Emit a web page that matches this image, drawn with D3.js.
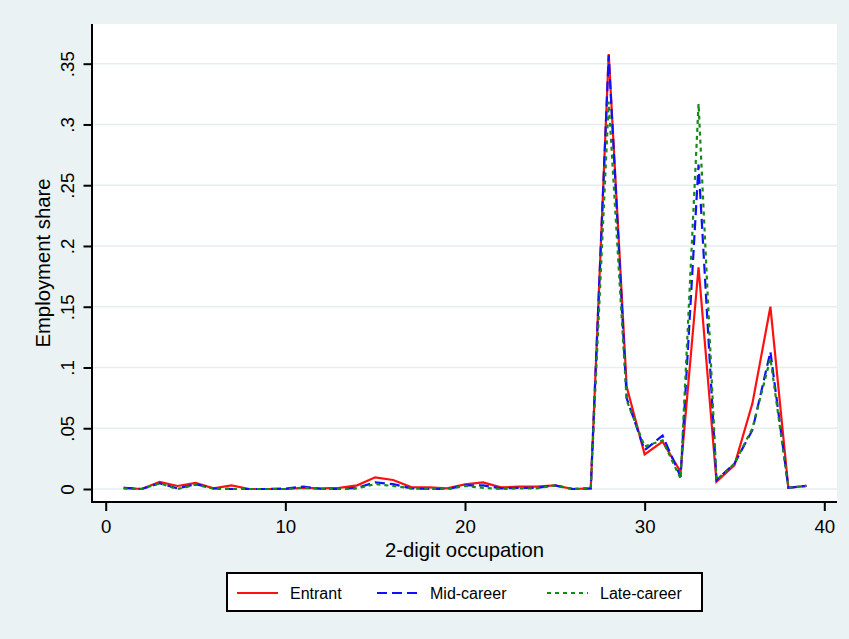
<!DOCTYPE html>
<html>
<head>
<meta charset="utf-8">
<script src="https://cdn.jsdelivr.net/npm/d3@7/dist/d3.min.js"></script>
<style>
  html, body { margin: 0; padding: 0; background: #eaf2f3; }
  svg { display: block; font-family: "Liberation Sans", Arial, Helvetica, sans-serif; }
</style>
</head>
<body>
<svg id="chart" width="849" height="639"></svg>
<script>
// 2-digit occupation codes
const occupations = d3.range(1, 40);

// Employment share by career stage
const entrant = [
  0.0010, 0.0000, 0.0058, 0.0025, 0.0050, 0.0005, 0.0030, 0.0000, 0.0000, 0.0000,
  0.0010, 0.0005, 0.0010, 0.0030, 0.0096, 0.0074, 0.0016, 0.0013, 0.0005, 0.0038,
  0.0055, 0.0013, 0.0020, 0.0020, 0.0030, 0.0000, 0.0005, 0.3580, 0.0842, 0.0285,
  0.0390, 0.0142, 0.1825, 0.0060, 0.0197, 0.0705, 0.1500, 0.0010, 0.0025
];
const midCareer = [
  0.0010, 0.0000, 0.0047, 0.0005, 0.0040, 0.0005, 0.0000, 0.0000, 0.0000, 0.0003,
  0.0020, 0.0000, 0.0000, 0.0010, 0.0055, 0.0040, 0.0005, 0.0000, 0.0000, 0.0030,
  0.0030, 0.0005, 0.0010, 0.0010, 0.0030, 0.0000, 0.0005, 0.3570, 0.0746, 0.0320,
  0.0440, 0.0100, 0.2670, 0.0074, 0.0210, 0.0486, 0.1130, 0.0010, 0.0025
];
const lateCareer = [
  0.0005, 0.0000, 0.0047, 0.0000, 0.0035, 0.0005, 0.0000, 0.0000, 0.0000, 0.0000,
  0.0010, 0.0000, 0.0000, 0.0005, 0.0040, 0.0025, 0.0005, 0.0000, 0.0000, 0.0025,
  0.0010, 0.0000, 0.0005, 0.0005, 0.0030, 0.0000, 0.0005, 0.3188, 0.0730, 0.0350,
  0.0400, 0.0085, 0.3170, 0.0074, 0.0210, 0.0500, 0.1075, 0.0010, 0.0025
];

const yTicks = [0, 0.05, 0.1, 0.15, 0.2, 0.25, 0.3, 0.35];
const xTicks = [0, 10, 20, 30, 40];

const seriesNames = ["Entrant", "Mid-career", "Late-career"];
const seriesColors = ["#ff1010", "#1010ff", "#168a16"];
const seriesDashes = [null, "10,5", "4,4"];
const seriesValues = [entrant, midCareer, lateCareer];

const svg = d3.select("#chart");

// plot region
const region = { left: 92, right: 837, top: 24, bottom: 502 };

svg.append("rect")
  .attr("x", region.left).attr("y", region.top)
  .attr("width", region.right - region.left)
  .attr("height", region.bottom - region.top)
  .attr("fill", "#ffffff");

const x = d3.scaleLinear().domain([0, 40]).range([105.7, 824.3]);
const y = d3.scaleLinear().domain([0, 0.35]).range([489, 63.7]);

// horizontal grid
svg.append("g")
  .selectAll("line")
  .data(yTicks)
  .join("line")
  .attr("x1", region.left).attr("x2", region.right)
  .attr("y1", d => y(d)).attr("y2", d => y(d))
  .attr("stroke", "#e6eef0")
  .attr("stroke-width", 1.6);

const fmtY = d => d === 0 ? "0" : d3.format(".2~f")(d).replace(/^0\./, ".");

// y axis
const yAxis = svg.append("g")
  .attr("transform", `translate(${region.left},0)`)
  .call(d3.axisLeft(y).tickValues(yTicks).tickFormat(fmtY).tickSize(8.5).tickSizeOuter(0));
yAxis.select(".domain").remove();
yAxis.selectAll(".tick line").attr("stroke", "#000").attr("stroke-width", 2);
yAxis.selectAll(".tick text")
  .attr("x", 0).attr("y", -18.5).attr("dy", 0)
  .attr("text-anchor", "middle")
  .attr("transform", "rotate(-90)")
  .attr("font-size", 18.7)
  .attr("font-family", null)
  .attr("fill", "#000");

// x axis
const xAxis = svg.append("g")
  .attr("transform", `translate(0,${region.bottom})`)
  .call(d3.axisBottom(x).tickValues(xTicks).tickFormat(d3.format("d")).tickSize(9).tickSizeOuter(0));
xAxis.select(".domain").remove();
xAxis.selectAll(".tick line").attr("stroke", "#000").attr("stroke-width", 2);
xAxis.selectAll(".tick text")
  .attr("y", 31).attr("dy", 0)
  .attr("font-size", 18.7)
  .attr("font-family", null)
  .attr("fill", "#000");

// axis lines
svg.append("line")
  .attr("x1", region.left).attr("x2", region.left)
  .attr("y1", region.top).attr("y2", region.bottom + 1)
  .attr("stroke", "#000").attr("stroke-width", 2);
svg.append("line")
  .attr("x1", region.left - 1).attr("x2", region.right)
  .attr("y1", region.bottom).attr("y2", region.bottom)
  .attr("stroke", "#000").attr("stroke-width", 2);

// axis titles
svg.append("text")
  .attr("x", (region.left + region.right) / 2).attr("y", 557)
  .attr("text-anchor", "middle")
  .attr("font-size", 20.3)
  .text("2-digit occupation");
svg.append("text")
  .attr("transform", `translate(50,${(region.top + region.bottom) / 2}) rotate(-90)`)
  .attr("text-anchor", "middle")
  .attr("font-size", 20.3)
  .text("Employment share");

// series lines
const line = d3.line().x(d => x(d[0])).y(d => y(d[1]));
seriesValues.forEach((vals, i) => {
  svg.append("path")
    .datum(occupations.map((o, k) => [o, vals[k]]))
    .attr("d", line)
    .attr("fill", "none")
    .attr("stroke", seriesColors[i])
    .attr("stroke-width", 2.2)
    .attr("stroke-linejoin", "miter")
    .attr("stroke-dasharray", seriesDashes[i]);
});

// legend
const legend = svg.append("g");
legend.append("rect")
  .attr("x", 227).attr("y", 573)
  .attr("width", 475).attr("height", 38)
  .attr("fill", "#fff")
  .attr("stroke", "#000").attr("stroke-width", 2);
const legendX = [237, 377, 547];
seriesNames.forEach((name, i) => {
  legend.append("line")
    .attr("x1", legendX[i]).attr("x2", legendX[i] + 41)
    .attr("y1", 593).attr("y2", 593)
    .attr("stroke", seriesColors[i])
    .attr("stroke-width", 2.2)
    .attr("stroke-dasharray", seriesDashes[i]);
  legend.append("text")
    .attr("x", legendX[i] + 53).attr("y", 599)
    .attr("font-size", 16)
    .text(name);
});
</script>
</body>
</html>
